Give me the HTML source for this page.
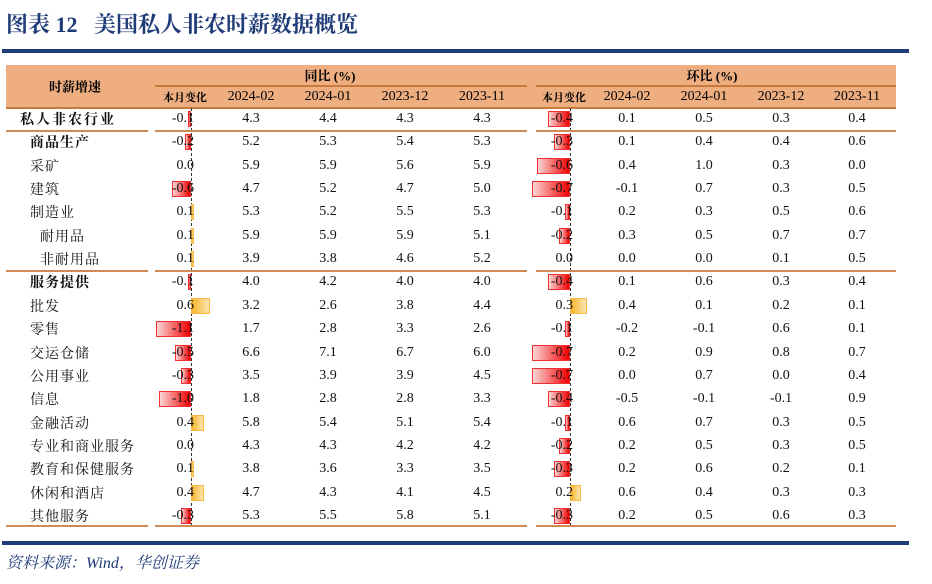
<!DOCTYPE html>
<html><head><meta charset="utf-8"><style>
body{margin:0;width:932px;height:584px;background:#fff;position:relative;overflow:hidden;font-family:"Liberation Serif","Noto Serif CJK SC",serif;}
.a{position:absolute;white-space:nowrap;}
.t{font-size:14px;color:#111;transform:translateY(-50%);}
.c{transform:translate(-50%,-50%);}
.ln{position:absolute;height:2px;background:#d08a55;}
.bar{position:absolute;height:16px;box-sizing:border-box;}
</style></head><body>
<div class="a" style="left:6px;top:8px;font-size:22px;font-weight:bold;color:#1f3c78;">图表 12&nbsp;&nbsp;&nbsp;美国私人非农时薪数据概览</div>
<div class="a" style="left:2px;top:49px;width:907px;height:4px;background:#1f3c78;"></div>
<div class="a" style="left:6px;top:65px;width:890px;height:43px;background:#eeae80;"></div>
<div class="a" style="left:75px;top:86px;font-size:13px;font-weight:bold;transform:translate(-50%,-50%);">时薪增速</div>
<div class="a" style="left:330px;top:75px;font-size:13px;font-weight:bold;transform:translate(-50%,-50%);">同比 (%)</div>
<div class="a" style="left:712px;top:75px;font-size:13px;font-weight:bold;transform:translate(-50%,-50%);">环比 (%)</div>
<div class="a" style="left:155px;top:85px;width:372px;height:2px;background:#c87a3c;"></div>
<div class="a" style="left:536px;top:85px;width:360px;height:2px;background:#c87a3c;"></div>
<div class="ln" style="left:6px;top:107px;width:890px;background:#c87a3c;"></div>
<div id="root"></div>
<div class="a" style="left:2px;top:541px;width:907px;height:4px;background:#1f3c78;"></div>
<div class="a" style="left:6px;top:550px;font-size:16px;font-style:italic;color:#1f3c78;">资料来源：Wind，华创证券</div>
<script>
const labels=["私人非农行业","商品生产","采矿","建筑","制造业","耐用品","非耐用品","服务提供","批发","零售","交运仓储","公用事业","信息","金融活动","专业和商业服务","教育和保健服务","休闲和酒店","其他服务"];
const indents=[0,1,1,1,1,2,2,1,1,1,1,1,1,1,1,1,1,1];
const bolds=[1,1,0,0,0,0,0,1,0,0,0,0,0,0,0,0,0,0];
const months=["2024-02","2024-01","2023-12","2023-11"];
const yoyChange=[-0.1,-0.2,0.0,-0.6,0.1,0.1,0.1,-0.1,0.6,-1.1,-0.5,-0.3,-1.0,0.4,0.0,0.1,0.4,-0.3];
const yoy0=[4.3,5.2,5.9,4.7,5.3,5.9,3.9,4.0,3.2,1.7,6.6,3.5,1.8,5.8,4.3,3.8,4.7,5.3];
const yoy1=[4.4,5.3,5.9,5.2,5.2,5.9,3.8,4.2,2.6,2.8,7.1,3.9,2.8,5.4,4.3,3.6,4.3,5.5];
const yoy2=[4.3,5.4,5.6,4.7,5.5,5.9,4.6,4.0,3.8,3.3,6.7,3.9,2.8,5.1,4.2,3.3,4.1,5.8];
const yoy3=[4.3,5.3,5.9,5.0,5.3,5.1,5.2,4.0,4.4,2.6,6.0,4.5,3.3,5.4,4.2,3.5,4.5,5.1];
const momChange=[-0.4,-0.3,-0.6,-0.7,-0.1,-0.2,0.0,-0.4,0.3,-0.1,-0.7,-0.7,-0.4,-0.1,-0.2,-0.3,0.2,-0.3];
const mom0=[0.1,0.1,0.4,-0.1,0.2,0.3,0.0,0.1,0.4,-0.2,0.2,0.0,-0.5,0.6,0.2,0.2,0.6,0.2];
const mom1=[0.5,0.4,1.0,0.7,0.3,0.5,0.0,0.6,0.1,-0.1,0.9,0.7,-0.1,0.7,0.5,0.6,0.4,0.5];
const mom2=[0.3,0.4,0.3,0.3,0.5,0.7,0.1,0.3,0.2,0.6,0.8,0.0,-0.1,0.3,0.3,0.2,0.3,0.6];
const mom3=[0.4,0.6,0.0,0.5,0.6,0.7,0.5,0.4,0.1,0.1,0.7,0.4,0.9,0.5,0.5,0.1,0.3,0.3];

const root=document.getElementById('root');
const rowY=i=>119+i*23.35;
const yoyScale=v=>v*32, momScale=v=>v*55;
function el(cls,style,text){const d=document.createElement('div');d.className=cls;d.style.cssText=style;if(text!==undefined)d.textContent=text;root.appendChild(d);return d;}
const groups=[{axis:191,cols:[251,328,405,482],chg:yoyChange,vals:[yoy0,yoy1,yoy2,yoy3],sc:yoyScale,name:'yoy'},
{axis:570,cols:[627,704,781,857],chg:momChange,vals:[mom0,mom1,mom2,mom3],sc:momScale,name:'mom'}];
groups.forEach(g=>{
 let h=el('a','left:'+(g.axis-6)+'px;top:97px;font-size:11px;font-weight:bold;transform:translate(-50%,-50%);','本月变化');
 
 
 months.forEach((m,j)=>{let d=el('a','left:'+g.cols[j]+'px;top:97px;font-size:14px;transform:translate(-50%,-50%);',m);
 
 });
 let ax=el('a','left:'+g.axis+'px;top:108px;height:418px;border-left:1px dashed #333;');
 
 
});
labels.forEach((lab,i)=>{
 const y=rowY(i);
 const x=indents[i]==0?20:(indents[i]==1?30:40);
 let d=el('a t','left:'+x+'px;top:'+y+'px;'+(bolds[i]?'font-weight:bold;':'')+(i==0?'letter-spacing:2px;':'letter-spacing:1px;'),lab);
 
 
 groups.forEach(g=>{
  const v=g.chg[i];const w=Math.abs(g.sc(v));
  if(w>0){
   const neg=v<0;
   let b=el('bar','top:'+(y-8)+'px;left:'+(neg?g.axis-w:g.axis)+'px;width:'+w+'px;'+(neg?'background:linear-gradient(to right,#fbd5d5,#f00000);border:1.5px solid #f03030;':'background:linear-gradient(to right,#f7b52a,#fde5b0);border:1.5px solid #f5b841;'));
   
   
  }
  let t=el('a t','left:'+(g.axis+3)+'px;top:'+y+'px;transform:translate(-100%,-50%);',v.toFixed(1));
  
  
  g.vals.forEach((arr,j)=>{let c=el('a t c','left:'+g.cols[j]+'px;top:'+y+'px;',arr[i].toFixed(1));
   
   });
 });
});
[[130,'group-rule-top'],[270,'group-rule-services'],[525,'table-bottom-rule']].forEach(([y,n])=>{
 [[6,142],[155,372],[536,360]].forEach(([x,w])=>{let l=el('ln','left:'+x+'px;top:'+y+'px;width:'+w+'px;');
  
  });
});
</script>
</body></html>
